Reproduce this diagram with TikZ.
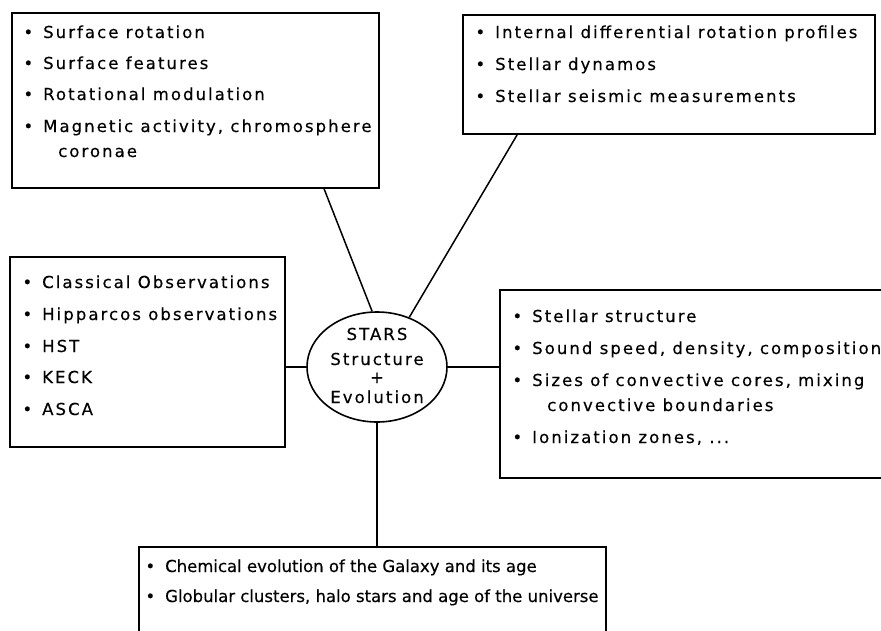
\documentclass[tikz,border=0pt]{standalone}
\usepackage{fontspec}
\setmainfont{DejaVu Sans}
\newfontfamily\widefont{DejaVu Sans}[LetterSpace=12.5,FakeBold=0.4]
\newfontfamily\tightfont{DejaVu Sans}[LetterSpace=0,FakeBold=0.4]
\usetikzlibrary{shapes.geometric,fit}
\tikzset{
  box/.style={draw, line width=1.8pt, inner sep=0pt, rectangle},
  link/.style={line width=1.5pt},
  txt/.style={anchor=base west, inner sep=0pt, font=\widefont\fontsize{16.5}{19}\selectfont},
  ttxt/.style={anchor=base west, inner sep=0pt, font=\tightfont\fontsize{16.5}{19}\selectfont},
  ctxt/.style={anchor=base, inner sep=0pt, font=\widefont\fontsize{16.5}{19}\selectfont},
  starnode/.style={draw, ellipse, line width=1.6pt, minimum width=140pt, minimum height=110pt, inner sep=0pt}
}
\newcommand\bul{\llap{•\hspace{10pt}}}
\begin{document}
\begin{tikzpicture}[x=1pt,y=-1pt]
\useasboundingbox (0,0) rectangle (881,630);
\fill[white] (0,0) rectangle (881,630);
\clip (0,0) rectangle (881,630);
% boxes
\node[box, fit={(12,13) (379,188)}] (tl) {};
\node[box, fit={(463,15) (875,134)}] (tr) {};
\node[box, fit={(10,257) (285,447)}] (lf) {};
\node[box, fit={(500,290) (900,478)}] (rt) {};
\node[box, fit={(139,547) (606,660)}] (bt) {};
\node[starnode] (st) at (377,367) {};
% texts: top left
\node[txt] (tl1) at (43,38) {\bul Surface rotation};
\node[txt] (tl2) at (43,69) {\bul Surface features};
\node[txt] (tl3) at (43,100) {\bul Rotational modulation};
\node[txt] (tl4) at (43,132) {\bul Magnetic activity, chromosphere};
\node[txt] (tl5) at (58,157) {coronae};
% top right
\node[txt] (tr1) at (495,38) {\bul Internal differential rotation profiles};
\node[txt] (tr2) at (495,70) {\bul Stellar dynamos};
\node[txt] (tr3) at (495,102) {\bul Stellar seismic measurements};
% left
\node[txt] (lf1) at (42,288) {\bul Classical Observations};
\node[txt] (lf2) at (42,320) {\bul Hipparcos observations};
\node[txt] (lf3) at (42,352) {\bul HST};
\node[txt] (lf4) at (42,383) {\bul KECK};
\node[txt] (lf5) at (42,415) {\bul ASCA};
% right
\node[txt] (rt1) at (532,322) {\bul Stellar structure};
\node[txt] (rt2) at (532,354) {\bul Sound speed, density, composition};
\node[txt] (rt3) at (532,386) {\bul Sizes of convective cores, mixing};
\node[txt] (rt4) at (547,411) {convective boundaries};
\node[txt] (rt5) at (532,443) {\bul Ionization zones, ...};
% bottom
\node[ttxt] (bt1) at (165,572) {\bul Chemical evolution of the Galaxy and its age};
\node[ttxt] (bt2) at (165,602) {\bul Globular clusters, halo stars and age of the universe};
% centre
\node[ctxt] (s1) at (377,340) {STARS};
\node[ctxt] (s2) at (377,365) {Structure};
\node[ctxt] (s3) at (377,383) {+};
\node[ctxt] (s4) at (377,403) {Evolution};
% connectors
\draw[link] ([xshift=313pt]tl.south west) -- (st.95);
\draw[link] ([xshift=55pt]tr.south west) -- (st.57);
\draw[link] (lf.east |- st.west) -- (st.west);
\draw[link] (st.east) -- (rt.west |- st.east);
\draw[link] (st.south) -- (bt.north -| st.south);
\end{tikzpicture}
\end{document}
